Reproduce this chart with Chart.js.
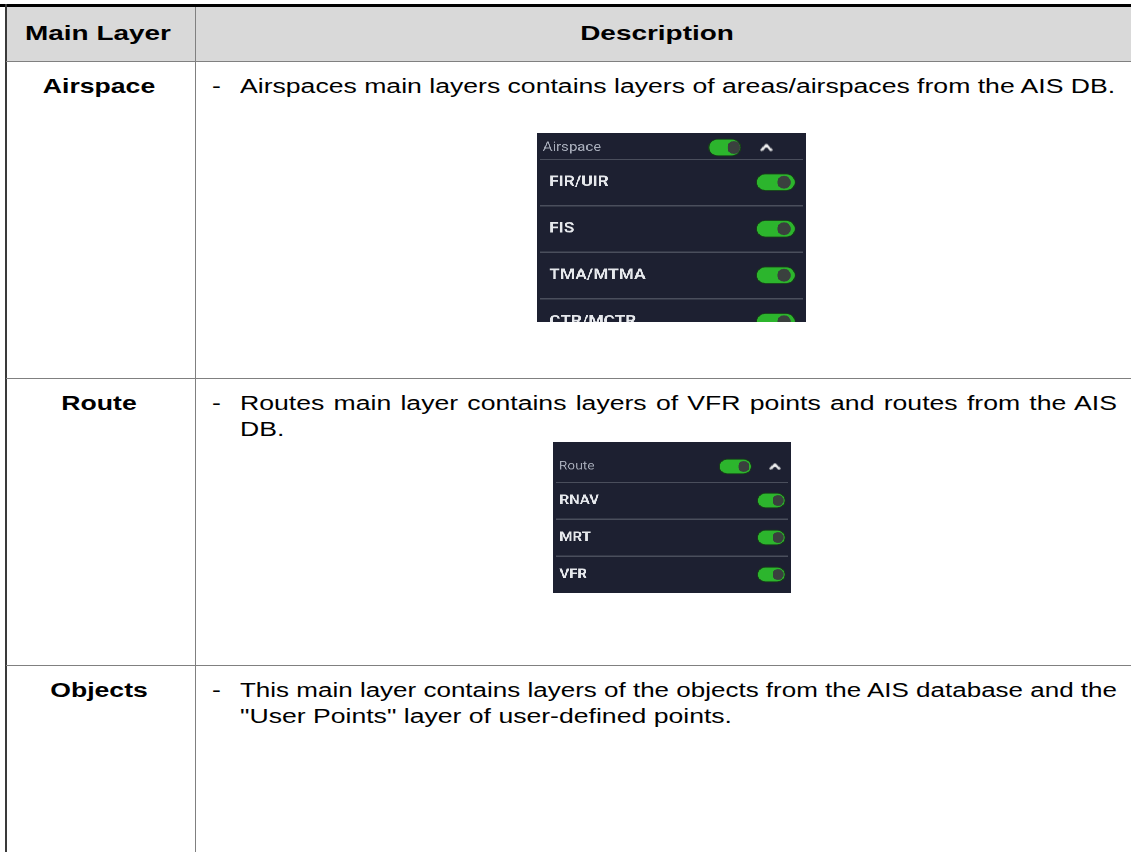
<!DOCTYPE html>
<html>
<head>
<meta charset="utf-8">
<title>Main layers</title>
<script src="https://cdn.jsdelivr.net/npm/chart.js@4.4.1/dist/chart.umd.min.js"></script>
<style>
  html, body { margin: 0; padding: 0; background: #fff; }
  body { width: 1131px; height: 852px; position: relative; overflow: hidden;
         font-family: "Liberation Sans", Arial, sans-serif; color: #000; }
  .rule { position: absolute; }
  .txt { position: absolute; font-size: 20px; line-height: 26px; white-space: nowrap;
         transform-origin: 0 0; }
  .center { transform: scaleX(1.33) translateX(-50%); }
  .left { transform: scaleX(1.33); }
  .just { text-align: justify; text-align-last: justify; }
  .bold { font-weight: bold; }
  .big { font-size: 21px; }
  .panel { position: absolute; overflow: hidden; background: #1d2031; transform-origin: 0 0; }
  .panel canvas { display: block; }
</style>
</head>
<body>
<script>
// table content
const headers = ['Main Layer', 'Description'];
const mainLayers = ['Airspace', 'Route', 'Objects'];
const descLines = [
    ['Airspaces main layers contains layers of areas/airspaces from the AIS DB.'],
    ['Routes main layer contains layers of VFR points and routes from the AIS', 'DB.'],
    ['This main layer contains layers of the objects from the AIS database and the', '"User Points" layer of user-defined points.']
];

// layer panels (the screenshots inside the table)
const airspaceLayers = ['Airspace', 'FIR/UIR', 'FIS', 'TMA/MTMA', 'CTR/MCTR'];
const airspaceOn = [true, true, true, true, true];
const routeLayers = ['Route', 'RNAV', 'MRT', 'VFR'];
const routeOn = [true, true, true, true];

// layout
const STRETCH = 1.33;
const rowTops = [61, 378, 665];
const colSplit = 195;
const textRight = 1117;

function add(cls, css, text, parent) {
    const d = document.createElement('div');
    d.className = cls;
    Object.assign(d.style, css);
    if (text !== undefined) d.textContent = text;
    (parent || document.body).appendChild(d);
    return d;
}

// table rules
add('rule', {left: '0px', top: '4px', width: '1131px', height: '3px', background: '#000'});
add('rule', {left: '6px', top: '7px', width: '1125px', height: '54px', background: '#d9d9d9'});
add('rule', {left: '5px', top: '4px', width: '1.5px', height: '848px', background: '#3a3a3a'});
add('rule', {left: colSplit + 'px', top: '7px', width: '1px', height: '845px', background: '#808080'});
rowTops.forEach(function (y) {
    add('rule', {left: '6px', top: y + 'px', width: '1125px', height: '1px', background: '#808080'});
});

// header
add('txt center bold big', {left: '98px', top: '20px'}, headers[0]);
add('txt center bold big', {left: '657px', top: '20px'}, headers[1]);

// rows
mainLayers.forEach(function (name, i) {
    const y = rowTops[i] + 12;
    add('txt center bold', {left: '99px', top: y + 'px'}, name);
    add('txt left', {left: '212px', top: y + 'px'}, '-');
    descLines[i].forEach(function (line, k) {
        const last = k === descLines[i].length - 1;
        const d = add('txt left', {left: '240px', top: (y + 26 * k) + 'px'}, line);
        const target = textRight - 240;
        if (!last) {
            // justified line: fill the cell width
            const s = Math.min(STRETCH, target / d.offsetWidth);
            d.classList.add('just');
            d.style.width = (target / s) + 'px';
            d.style.transform = 'scaleX(' + s + ')';
        } else if (d.offsetWidth * STRETCH > target) {
            d.style.transform = 'scaleX(' + (target / d.offsetWidth) + ')';
        }
    });
});

// chevron used for the collapse arrow
function makeChevron(w) {
    const c = document.createElement('canvas');
    c.width = w + 2; c.height = Math.round(w * 0.65) + 2;
    const g = c.getContext('2d');
    g.strokeStyle = '#f2f2f2';
    g.lineWidth = 2.2;
    g.lineCap = 'round';
    g.lineJoin = 'round';
    g.beginPath();
    g.moveTo(1.5, c.height - 1.5); g.lineTo(c.width / 2, 1.5); g.lineTo(c.width - 1.5, c.height - 1.5);
    g.stroke();
    return c;
}

function toggleChart(parent, labels, on, box, header) {
    const cv = document.createElement('canvas');
    cv.width = Math.round(box.w);
    cv.height = header ? box.headH : labels.length * box.rowH;
    parent.appendChild(cv);
    const tg = header ? box.headToggle : box.toggle;
    const kn = header ? box.headKnob : box.knob;
    const datasets = [{
        label: 'knob',
        data: on.map(v => v ? kn : null),
        backgroundColor: '#3a403e',
        barThickness: box.knobH,
        borderRadius: box.knobH / 2,
        borderSkipped: false,
        grouped: false,
        clip: false,
        order: 0
    }, {
        label: 'toggle',
        data: on.map(v => v ? tg : null),
        backgroundColor: '#2cb52d',
        borderColor: '#173d1a',
        borderWidth: 1,
        barThickness: box.toggleH,
        borderRadius: box.toggleH / 2,
        borderSkipped: false,
        grouped: false,
        clip: false,
        order: 1
    }];
    if (header) {
        datasets.push({
            type: 'scatter',
            label: 'collapse',
            data: [{x: box.chevron, y: labels[0]}],
            pointStyle: makeChevron(box.chevW),
            clip: false,
            order: 0
        });
    }
    const shown = header ? labels : labels.map(l => box.indent + l);
    return new Chart(cv, {
        type: 'bar',
        data: {labels: shown, datasets: datasets},
        options: {
            indexAxis: 'y',
            responsive: false,
            animation: false,
            devicePixelRatio: 2,
            layout: {padding: {left: box.pad, right: box.pad, top: header ? box.headShift : 0, bottom: 0}},
            plugins: {legend: {display: false}, tooltip: {enabled: false}},
            scales: {
                x: {display: false, min: 0, max: 100},
                y: {
                    border: {display: false},
                    afterFit: function (scale) {
                        scale.width = 0;
                        scale.paddingTop = 0;
                        scale.paddingBottom = 0;
                    },
                    grid: {
                        drawTicks: false,
                        offset: true,
                        lineWidth: 1.5,
                        color: ctx => (header || ctx.type !== 'tick') ? 'rgba(0,0,0,0)' : '#4a4e5c'
                    },
                    ticks: {
                        mirror: true,
                        padding: 0,
                        font: {family: 'Roboto', size: header ? box.headFont : box.font, weight: header ? 'normal' : 'bold'},
                        color: header ? '#a7acb9' : '#e6e8ec'
                    }
                }
            }
        }
    });
}

function makePanel(layers, on, box) {
    const wrap = add('panel', {
        left: box.left + 'px', top: box.top + 'px',
        width: box.w + 'px', height: box.height + 'px',
        transform: 'scaleX(' + box.stretch + ')'
    });
    toggleChart(wrap, layers.slice(0, 1), on.slice(0, 1), box, true);
    toggleChart(wrap, layers.slice(1), on.slice(1), box, false);
}

makePanel(airspaceLayers, airspaceOn, {
    left: 537, top: 133, w: 269 / 1.15, height: 189, stretch: 1.15,
    headH: 26, headShift: 8, rowH: 46.5, font: 15, headFont: 13, indent: '\u2002', pad: 3,
    toggleH: 17, knobH: 12,
    headToggle: [64.3, 76.9], headKnob: [72, 76.4], chevron: 86.8, chevW: 9,
    toggle: [82.3, 97.2], knob: [90.6, 95.2]
});
makePanel(routeLayers, routeOn, {
    left: 553, top: 442, w: 238 / 1.15, height: 151, stretch: 1.15,
    headH: 40, headShift: 14, rowH: 37, font: 13, headFont: 12, indent: '\u2009', pad: 3,
    toggleH: 15, knobH: 10,
    headToggle: [70.8, 85.1], headKnob: [79.5, 83.8], chevron: 95.4, chevW: 8,
    toggle: [86.9, 99], knob: [93.7, 98]
});
</script>
</body>
</html>
